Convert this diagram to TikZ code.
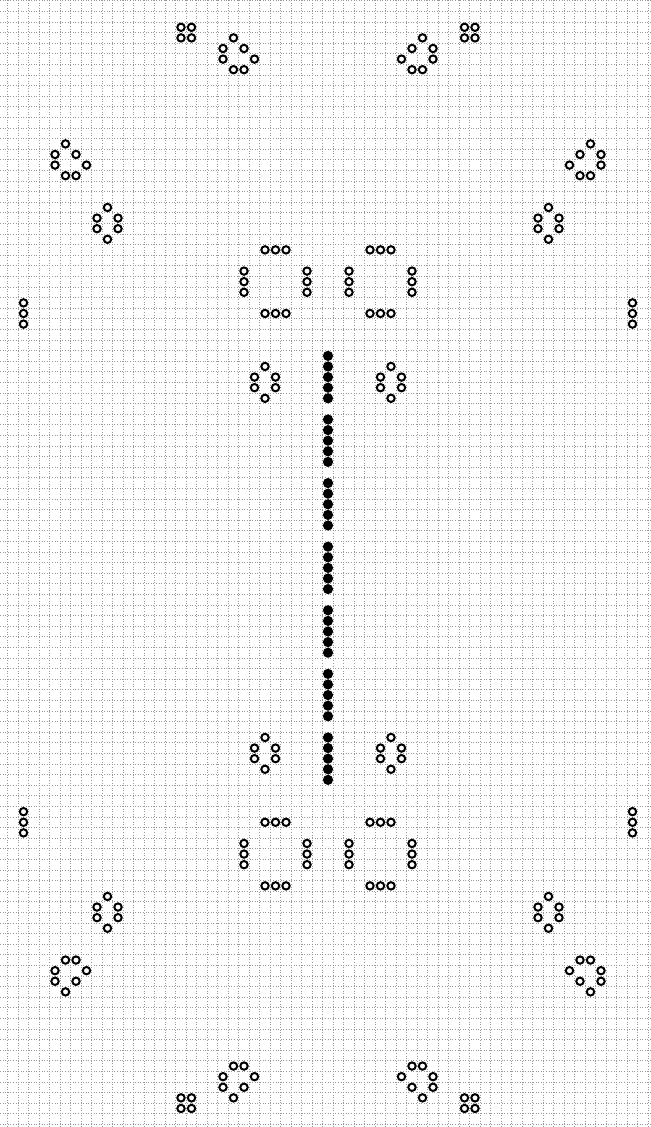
\documentclass[tikz,border=0pt]{standalone}
\usepackage{tikz}
\tikzset{gridline/.style={line width=0.35pt,black!40,dash pattern=on 0.4pt off 0.9pt}}
\newcommand{\livecell}[2]{\draw[fill=white,line width=1pt] (#1,#2) circle[radius=1.85pt];}
\newcommand{\hotcell}[2]{\fill (#1,#2) circle[radius=2.55pt];}

\begin{document}
\begin{tikzpicture}[x=5.25pt,y=5.3pt]
\useasboundingbox (-31.24,53.575) rectangle (30.76,-52.75);
% ruled sheet
\foreach \gx in {-30.5,-29.5,...,30.5} {\draw[gridline] (\gx,53.575)--(\gx,-52.75);}
\foreach \gy in {-52.5,-51.5,...,53.5} {\draw[gridline] (-31.24,\gy)--(30.76,\gy);}
% one quarter, reflected into the other three
\foreach \mx/\my in {1/1,-1/1,1/-1,-1/-1}{
\begin{scope}[xscale=\mx,yscale=\my]
\livecell{-14}{51}\livecell{-13}{51}\livecell{-14}{50}\livecell{-13}{50}
\livecell{-9}{50}\livecell{-10}{49}\livecell{-8}{49}\livecell{-10}{48}\livecell{-7}{48}\livecell{-9}{47}\livecell{-8}{47}
\livecell{-25}{40}\livecell{-26}{39}\livecell{-24}{39}\livecell{-26}{38}\livecell{-23}{38}\livecell{-25}{37}\livecell{-24}{37}
\livecell{-21}{34}\livecell{-22}{33}\livecell{-20}{33}\livecell{-22}{32}\livecell{-20}{32}\livecell{-21}{31}
\livecell{-6}{30}\livecell{-5}{30}\livecell{-4}{30}\livecell{-6}{24}\livecell{-5}{24}\livecell{-4}{24}
\livecell{-8}{28}\livecell{-8}{27}\livecell{-8}{26}\livecell{-2}{28}\livecell{-2}{27}\livecell{-2}{26}
\livecell{-29}{25}\livecell{-29}{24}\livecell{-29}{23}
\livecell{-6}{19}\livecell{-7}{18}\livecell{-5}{18}\livecell{-7}{17}\livecell{-5}{17}\livecell{-6}{16}
\end{scope}}
% the middle column
\foreach \gtop in {20,14,8,2,-4,-10,-16}{
  \foreach \k in {0,...,4}{\hotcell{0}{\gtop-\k}}}
\end{tikzpicture}
\end{document}
